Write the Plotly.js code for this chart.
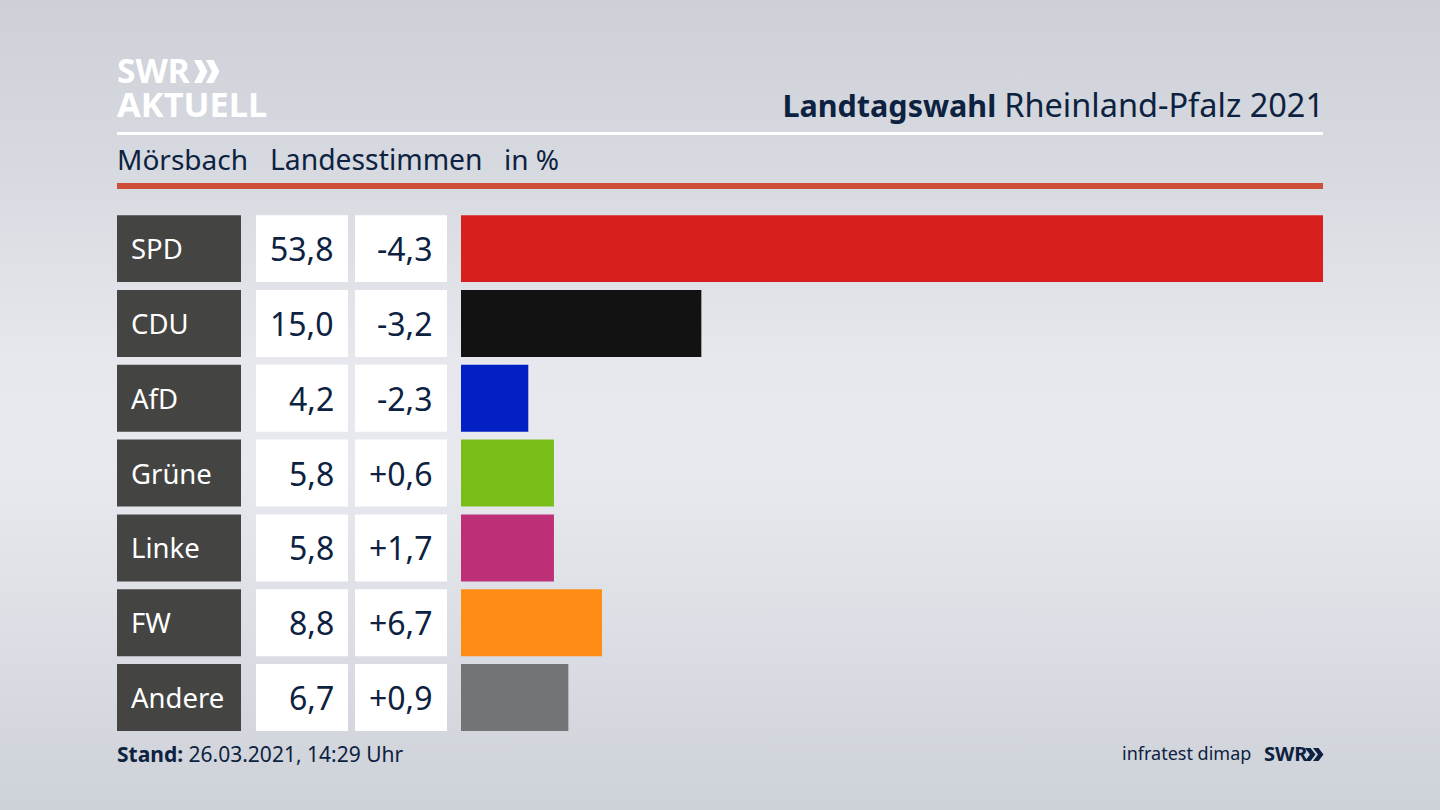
<!DOCTYPE html>
<html><head><meta charset="utf-8">
<script src="https://cdn.plot.ly/plotly-3.0.1.min.js"></script>
<style>
html,body{margin:0;padding:0;width:1440px;height:810px;overflow:hidden;
background:linear-gradient(180deg,#cdd0d7 0%,#d6d9df 20%,#e6e8ed 45%,#e7e9ee 58%,#d9dce2 82%,#cdd1d8 100%);}
#chart{width:1440px;height:810px;}
</style></head><body><div id="chart"></div>
<script>
const parties=['SPD','CDU','AfD','Grüne','Linke','FW','Andere'];
const shares=[53.8,15.0,4.2,5.8,5.8,8.8,6.7];
const changes=[-4.3,-3.2,-2.3,0.6,1.7,6.7,0.9];
const barColors=['#d7201e','#121212','#0220c4','#78bd18','#bd2f77','#ff8c14','#737476'];
const titleBold='Landtagswahl', titleRest='Rheinland-Pfalz 2021';
const subtitle=['Mörsbach','Landesstimmen','in %'];
const stand='26.03.2021, 14:29 Uhr';

const W=1440,H=810,NAVY='#0d2240',FONT='"Noto Sans", sans-serif';
const px=x=>x/W, py=y=>1-y/H;
const de=v=>v.toFixed(1).replace('.',',');
const signed=v=>(v>0?'+':'-')+de(Math.abs(v));
const ones=parties.map(()=>1);
const gap=0.105;

function cell(axis,color,name){
  return {type:'bar',orientation:'h',name,x:ones,y:parties,xaxis:axis,yaxis:'y',
    marker:{color,line:{width:0}},hoverinfo:'skip',showlegend:false};
}
const traces=[
  cell('x2','#444442','Partei'),cell('x3','#ffffff','Anteil'),cell('x4','#ffffff','Differenz'),
  {type:'bar',orientation:'h',name:'Landesstimmen',x:shares,y:parties,xaxis:'x',yaxis:'y',
   marker:{color:barColors,line:{width:0}},showlegend:false}
];

const hidden={visible:false,fixedrange:true};
const ann=(text,x,y,size,color,xanchor,extra)=>Object.assign({text,x:px(x),y:py(y),xref:'paper',yref:'paper',
  xanchor:xanchor||'left',yanchor:'middle',showarrow:false,borderpad:0,font:{family:FONT,size,color}},extra||{});
const rowAnn=(text,x,i,size,color,xanchor)=>({text,x:px(x),y:parties[i],xref:'paper',yref:'y',
  xanchor,yanchor:'middle',yshift:0,showarrow:false,borderpad:0,font:{family:FONT,size,color}});

const annotations=[];
parties.forEach((p,i)=>{
  annotations.push(rowAnn(p,130,i,27.5,'#ffffff','left'));
  annotations.push(rowAnn(de(shares[i]),334.5,i,32,NAVY,'right'));
  annotations.push(rowAnn(signed(changes[i]),433.5,i,32,NAVY,'right'));
});
annotations.push(ann(subtitle[0],115.5,159,28,NAVY));
annotations.push(ann(subtitle[1],268.5,159,28.3,NAVY));
annotations.push(ann(subtitle[2],503,159,28,NAVY));
annotations.push(ann('<b>Stand:</b> '+stand,116,754,21,NAVY));
annotations.push(ann('infratest dimap',1252,753,18,NAVY,'right'));
annotations.push(ann('<b>SWR</b>',1263,753,20,NAVY));
annotations.push(ann('<span style="font-size:33.5px"><b>SWR</b></span><br><span style="font-size:34.4px"><b>AKTUELL</b></span>',115.5,87,26,'#ffffff','left',{align:'left'}));

function chevrons(x,y,dx,h,t,a,color){
  const d=[0,1].map(k=>{
    const x0=x+k*dx;
    const P=[[x0,y],[x0+t,y],[x0+t+a,y+h/2],[x0+t,y+h],[x0,y+h],[x0+a,y+h/2]];
    return 'M'+P.map(p=>px(p[0]).toFixed(5)+','+py(p[1]).toFixed(5)).join('L')+'Z';
  }).join(' ');
  return {type:'path',path:d,xref:'paper',yref:'paper',fillcolor:color,line:{width:0}};
}
const rect=(x0,y0,x1,y1,color)=>({type:'rect',xref:'paper',yref:'paper',x0:px(x0),x1:px(x1),y0:py(y0),y1:py(y1),fillcolor:color,line:{width:0}});

const layout={
  width:W,height:H,margin:{l:0,r:0,t:0,b:0},autosize:false,
  paper_bgcolor:'rgba(0,0,0,0)',plot_bgcolor:'rgba(0,0,0,0)',
  barmode:'overlay',bargap:gap,showlegend:false,
  font:{family:FONT,color:NAVY},
  title:{text:'<b>'+titleBold+'</b> <span style="font-size:32.5px">'+titleRest+'</span>',x:px(1324),xanchor:'right',xref:'paper',y:py(106),yanchor:'middle',yref:'paper',
    font:{family:FONT,size:30.5,color:NAVY}},
  xaxis:Object.assign({domain:[px(461),px(1323)],range:[0,53.8],anchor:'y'},hidden),
  xaxis2:Object.assign({domain:[px(117),px(241)],range:[0,1],anchor:'y'},hidden),
  xaxis3:Object.assign({domain:[px(256),px(348)],range:[0,1],anchor:'y'},hidden),
  xaxis4:Object.assign({domain:[px(355),px(447)],range:[0,1],anchor:'y'},hidden),
  yaxis:Object.assign({domain:[py(735),py(211.2)],type:'category',categoryarray:parties,categoryorder:'array',range:[6.5,-0.5]},hidden),
  shapes:[rect(117,132,1323,135,'#ffffff'),rect(117,183,1323,189,'#cd4f38'),
    chevrons(194,60,12,23,7.5,6,'#ffffff'),chevrons(1305,748,8,13,5.5,5,NAVY)],
  annotations
};
Plotly.newPlot('chart',traces,layout,{displayModeBar:false,staticPlot:true});
</script></body></html>
